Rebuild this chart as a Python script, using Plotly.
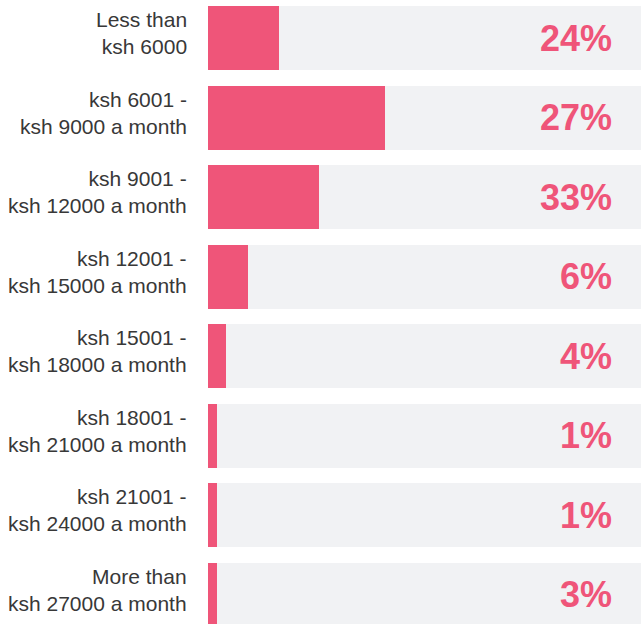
import plotly.graph_objects as go

categories = [
    "Less than<br>ksh 6000",
    "ksh 6001 -<br>ksh 9000 a month",
    "ksh 9001 -<br>ksh 12000 a month",
    "ksh 12001 -<br>ksh 15000 a month",
    "ksh 15001 -<br>ksh 18000 a month",
    "ksh 18001 -<br>ksh 21000 a month",
    "ksh 21001 -<br>ksh 24000 a month",
    "More than<br>ksh 27000 a month",
]
bar_values = [16.4, 40.9, 25.6, 9.2, 4.2, 2.1, 2.1, 2.1]
pct_labels = ["24%", "27%", "33%", "6%", "4%", "1%", "1%", "3%"]
track_max = 100

PINK = "#EF5579"
TRACK = "#F1F2F4"

fig = go.Figure()
fig.add_trace(go.Bar(
    y=categories, x=[track_max] * len(categories), orientation="h",
    marker=dict(color=TRACK, line=dict(width=0)), width=0.805,
    hoverinfo="skip", showlegend=False,
))
fig.add_trace(go.Bar(
    y=categories, x=bar_values, orientation="h",
    marker=dict(color=PINK, line=dict(width=0)), width=0.805,
    showlegend=False,
))

for cat, lab in zip(categories, pct_labels):
    fig.add_annotation(
        x=1, xref="paper", y=cat, yref="y", text=f"<b>{lab}</b>",
        xanchor="right", yanchor="middle", xshift=-27, yshift=0,
        showarrow=False,
        font=dict(family="Liberation Sans, Arial, sans-serif", size=36, color=PINK),
    )
    fig.add_annotation(
        x=0, xref="paper", y=cat, yref="y", text=cat,
        xanchor="right", yanchor="middle", xshift=-19, yshift=5,
        align="right", showarrow=False,
        font=dict(family="Liberation Sans, Arial, sans-serif", size=21, color="#383838"),
    )

fig.update_layout(
    width=641, height=624,
    margin=dict(l=208, r=0, t=0, b=0),
    paper_bgcolor="white", plot_bgcolor="white",
    barmode="overlay", bargap=0,
    xaxis=dict(range=[0, track_max], visible=False, fixedrange=True),
    yaxis=dict(
        categoryorder="array", categoryarray=categories,
        range=[7.371, -0.478], showticklabels=False, showgrid=False,
        zeroline=False, showline=False, ticks="",
    ),
)

fig.write_html("out.html", config={"displayModeBar": False},
               post_script="document.body.style.margin='0';")
